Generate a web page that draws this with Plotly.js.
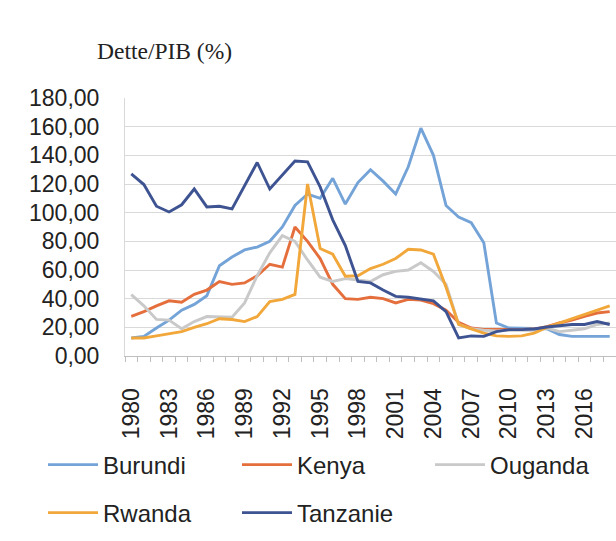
<!DOCTYPE html>
<html>
<head>
<meta charset="utf-8">
<script src="https://cdn.plot.ly/plotly-3.0.1.min.js"></script>
<style>
html,body{margin:0;padding:0;background:#fff;}
#chart{width:616px;height:541px;}
</style>
</head>
<body>
<div id="chart"></div>
<script>
const years = [];
for (let y = 1980; y <= 2018; y++) years.push(y);

const burundi = [12.6,13.7,19.5,25,32,36,42,63,69,74,76,80,90,105,113,110,124,106,121,130,122,113,132,159,140,105,97,93,79,23,19.5,19.5,19,19,15,13.7,13.7,13.7,13.7];
const kenya = [27.7,31,35,38.5,37.5,43,46,52,50,51,56,64,62,90,80,68,50,40,39.5,41,40,37,39.5,39,36.5,32,23.5,19.5,18.5,18.4,18.4,18.5,18.8,20.5,23,25,27.7,30,31];
const ouganda = [42.8,35,25.5,25,19,24,27.5,27.5,27,37,56,72,84,80,67,55,52,54,53,52,56.7,59,60,65,59,50,22,19,18,17.5,18,18,18,19.5,17,18,19,22,23];
const rwanda = [12.6,12.6,14,15.5,17,20,22.5,26,25.5,24,27.5,38,39.5,43,120,75,71,55.6,56,61,64,68,74.5,74,71,48,22,19,16,14,13.7,14,16,20,23,25.5,28.8,32,35];
const tanzanie = [127,119.6,104.5,100.5,105.5,116.5,104,104.5,102.6,119,135,116.5,126,136,135.5,118,95,77,52,51,46,41.6,41,40,38.5,31,12.6,14,13.7,17,18.4,18.4,18.8,20.2,21,22,22,24,22];

const seriesNames = ['Burundi','Kenya','Ouganda','Rwanda','Tanzanie'];
const seriesColors = ['#74A3D8','#E56F3C','#C9C9C9','#F2A73A','#3E5391'];
const seriesData = [burundi, kenya, ouganda, rwanda, tanzanie];
const legendIds = ['legend','legend2','legend3','legend4','legend5'];

const xTickVals = [1980,1983,1986,1989,1992,1995,1998,2001,2004,2007,2010,2013,2016];
const yTickVals = [0,20,40,60,80,100,120,140,160,180];

const traces = seriesData.map((d, i) => ({
  type: 'scatter',
  mode: 'lines',
  x: years,
  y: d,
  name: seriesNames[i],
  legend: legendIds[i],
  line: {color: seriesColors[i], width: 2.9},
  hoverinfo: 'skip'
}));

// plot area geometry (pixels) for placing legends
const W = 616, H = 541, ML = 125, MR = 0, MT = 98, MB = 185;
const PW = W - ML - MR, PH = H - MT - MB;
function px2x(px) { return (px - ML) / PW; }
function py2y(py) { return (H - MB - py) / PH; }

// legend entry anchors: [line start x, row centre y]
const legendPos = [[49,465],[243,465],[436,465],[49,513],[243,513]];

const layout = {
  width: W,
  height: H,
  margin: {l: ML, r: MR, t: MT, b: MB},
  paper_bgcolor: '#fff',
  plot_bgcolor: '#fff',
  separators: ', ',
  showlegend: true,
  title: {
    text: 'Dette/PIB (%)',
    font: {family: 'Liberation Serif, Times New Roman, serif', size: 23.5, color: '#222'},
    xref: 'container', x: 97/616, xanchor: 'left',
    yref: 'container', y: 1 - 51/541, yanchor: 'middle'
  },
  xaxis: {
    range: [1979.5, 2018.5],
    tickvals: xTickVals,
    ticktext: xTickVals.map(String),
    tickangle: -90,
    ticks: 'outside',
    ticklen: 22,
    tickcolor: 'rgba(0,0,0,0)',
    tickfont: {family: 'Liberation Sans, Arial, sans-serif', size: 23, color: '#222'},
    showgrid: false,
    zeroline: false,
    showline: true,
    linecolor: '#BFBFBF',
    linewidth: 1,
    minor: {ticks: 'outside', tick0: 1979.5, dtick: 1, ticklen: 5, tickcolor: '#BFBFBF', showgrid: false},
    fixedrange: true
  },
  yaxis: {
    range: [0, 180],
    tickvals: yTickVals,
    tickformat: '.2f',
    ticks: 'outside',
    ticklen: 20,
    tickcolor: 'rgba(0,0,0,0)',
    tickfont: {family: 'Liberation Sans, Arial, sans-serif', size: 23, color: '#222'},
    showgrid: true,
    gridcolor: '#D9D9D9',
    gridwidth: 1,
    zeroline: false,
    showline: true,
    linecolor: '#D9D9D9',
    fixedrange: true
  }
};

legendIds.forEach((id, i) => {
  layout[id] = {
    orientation: 'h',
    x: px2x(legendPos[i][0] - 6),
    xanchor: 'left',
    y: py2y(legendPos[i][1]),
    yanchor: 'middle',
    itemwidth: 50,
    font: {family: 'Liberation Sans, Arial, sans-serif', size: 24, color: '#222'},
    bgcolor: 'rgba(0,0,0,0)'
  };
});

Plotly.newPlot('chart', traces, layout, {displayModeBar: false, staticPlot: true});
</script>
</body>
</html>
